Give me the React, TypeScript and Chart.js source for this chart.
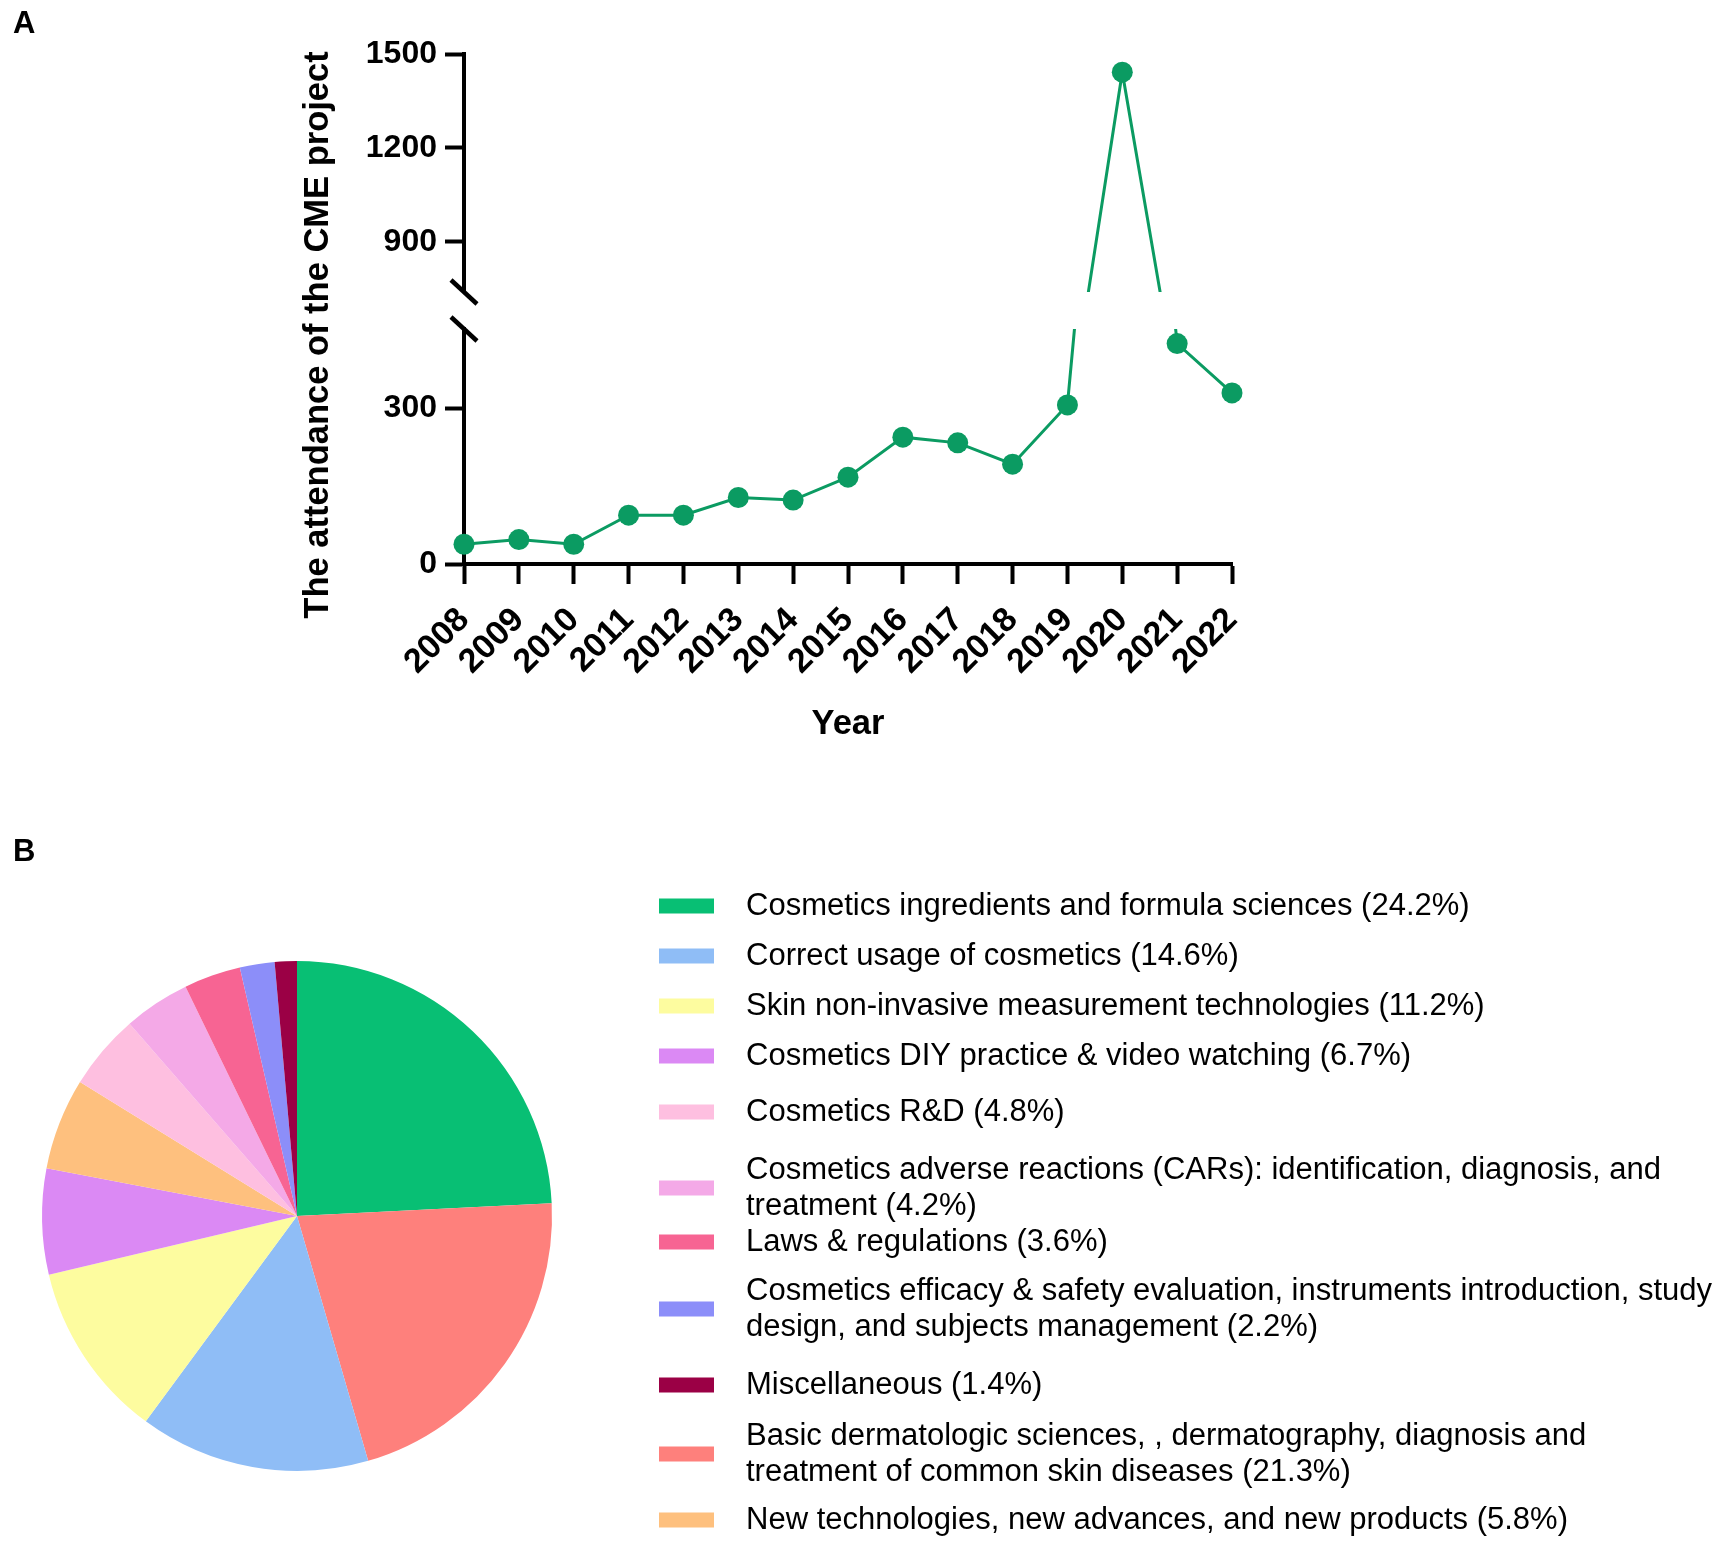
import { useEffect, useRef } from "react"
import { Chart, registerables } from "chart.js"

Chart.register(...registerables)

// Panel A: CME attendance per year
const years = ["2008", "2009", "2010", "2011", "2012", "2013", "2014", "2015", "2016", "2017", "2018", "2019", "2020", "2021", "2022"]
const attendance = [38, 47, 38, 94, 94, 128, 123, 167, 244, 233, 192, 306, 1442, 424, 329]
const lowerTicks = [0, 300]
const upperTicks = [900, 1200, 1500]
const lowerRange = [0, 452]
const upperRange = [740, 1500]

// Panel B: topics of the CME project (pie order, clockwise from 12 o'clock)
const topics = [
  "Cosmetics ingredients and formula sciences",
  "Basic dermatologic sciences, , dermatography, diagnosis and treatment of common skin diseases",
  "Correct usage of cosmetics",
  "Skin non-invasive measurement technologies",
  "Cosmetics DIY practice & video watching",
  "New technologies, new advances, and new products",
  "Cosmetics R&D",
  "Cosmetics adverse reactions (CARs): identification, diagnosis, and treatment",
  "Laws & regulations",
  "Cosmetics efficacy & safety evaluation, instruments introduction, study design, and subjects management",
  "Miscellaneous",
]
const shares = [24.2, 21.3, 14.6, 11.2, 6.7, 5.8, 4.8, 4.2, 3.6, 2.2, 1.4]
const sliceColors = ["#08bf74", "#fe807c", "#8fbdf6", "#fdfc9f", "#db89f4", "#fec07e", "#febfe0", "#f4a9e7", "#f76493", "#8c8ef9", "#9b0045"]
// order the legend lists the topics in
const legendOrder = [0, 2, 3, 4, 6, 7, 8, 9, 10, 1, 5]

const FONT = "'Liberation Sans', Arial, Helvetica, sans-serif"
const GREEN = "#0b9b62"

// spacing (px) from the last line of one legend entry to the first line of the next
const legendGaps = [50, 50, 50, 56, 58, 36, 49, 58, 51, 48]

Chart.defaults.font.family = FONT
Chart.defaults.color = "#000"

function AttendanceChart() {
  const chartRef = useRef<HTMLCanvasElement>(null)
  const chartInstance = useRef<Chart | null>(null)

  useEffect(() => {
    if (!chartRef.current) return

    if (chartInstance.current) {
      chartInstance.current.destroy()
    }

    const ctx = chartRef.current.getContext("2d")
    if (!ctx) return

    // break marks on the y axis + the y title spanning both segments
    const axisBreak = {
      id: "axisBreak",
      afterDraw(chart: any) {
        const { ctx, chartArea } = chart
        const x = chartArea.left
        const ends = [chart.scales.yHigh.bottom, chart.scales.yLow.top]
        ctx.save()
        ctx.strokeStyle = "#000"
        ctx.lineWidth = 4.5
        ends.forEach((y: number) => {
          ctx.beginPath()
          ctx.moveTo(x - 13, y - 12)
          ctx.lineTo(x + 13, y + 12)
          ctx.stroke()
        })
        ctx.translate(chartArea.left - 146, (chartArea.top + chartArea.bottom) / 2 + 26)
        ctx.rotate(-Math.PI / 2)
        ctx.font = `bold 34.5px ${FONT}`
        ctx.fillStyle = "#000"
        ctx.textAlign = "center"
        ctx.textBaseline = "middle"
        ctx.fillText("The attendance of the CME project", 0, 0)
        ctx.restore()
      },
    }

    const lineStyle = {
      data: attendance,
      borderColor: GREEN,
      backgroundColor: GREEN,
      borderWidth: 3,
      pointRadius: 10.5,
      pointBorderWidth: 0,
      pointBackgroundColor: GREEN,
      tension: 0,
      clip: { left: false, right: false, top: 0, bottom: 0 },
    }

    const yAxis = (range: number[], ticks: number[], weight: number) => ({
      type: "linear",
      position: "left",
      stack: "attendance",
      stackWeight: weight,
      min: range[0],
      max: range[1],
      afterBuildTicks: (axis: any) => {
        axis.ticks = ticks.map((value) => ({ value }))
      },
      afterFit: (axis: any) => {
        axis.width = 120
      },
      grid: { drawOnChartArea: false, tickLength: 19, tickWidth: 4, tickColor: "#000" },
      border: { width: 4, color: "#000" },
      ticks: {
        color: "#000",
        padding: 8,
        font: { size: 32, weight: "bold" },
        callback: (v: any) => String(v),
      },
    })

    chartInstance.current = new Chart(ctx, {
      type: "line",
      data: {
        labels: years,
        datasets: [
          { ...lineStyle, yAxisID: "yLow" },
          { ...lineStyle, yAxisID: "yHigh" },
        ],
      },
      options: {
        responsive: true,
        maintainAspectRatio: false,
        animation: false,
        layout: { padding: { left: 344, top: 54, right: 68, bottom: 0 } },
        plugins: {
          legend: { display: false },
          tooltip: { enabled: false },
        },
        scales: {
          x: {
            type: "category",
            offset: false,
            afterFit: (axis: any) => {
              axis.height = 196
            },
            grid: { drawOnChartArea: false, tickLength: 20, tickWidth: 4, tickColor: "#000" },
            border: { width: 4, color: "#000" },
            ticks: {
              autoSkip: false,
              minRotation: 45,
              maxRotation: 45,
              padding: 16,
              color: "#000",
              font: { size: 34, weight: "bold" },
            },
            title: {
              display: true,
              text: "Year",
              color: "#000",
              font: { size: 34.5, weight: "bold" },
              padding: { top: 0, bottom: 15 },
            },
          },
          yLow: yAxis(lowerRange, lowerTicks, 235),
          yGap: {
            type: "linear",
            position: "left",
            stack: "attendance",
            stackWeight: 37,
            min: 0,
            max: 1,
            grid: { display: false },
            border: { display: false },
            ticks: { display: false },
          },
          yHigh: yAxis(upperRange, upperTicks, 238),
        } as any,
      },
      plugins: [axisBreak],
    })

    return () => {
      if (chartInstance.current) {
        chartInstance.current.destroy()
        chartInstance.current = null
      }
    }
  }, [])

  return (
    <div style={{ position: "absolute", left: 0, top: 0, width: 1300, height: 760 }}>
      <canvas ref={chartRef}></canvas>
    </div>
  )
}

function wrapLines(ctx: CanvasRenderingContext2D, text: string, maxWidth: number) {
  const words = text.split(" ")
  const lines: string[] = []
  let line = ""
  words.forEach((w) => {
    const test = line ? line + " " + w : w
    if (line && ctx.measureText(test).width > maxWidth) {
      lines.push(line)
      line = w
    } else {
      line = test
    }
  })
  if (line) lines.push(line)
  return lines
}

function TopicsChart() {
  const chartRef = useRef<HTMLCanvasElement>(null)
  const chartInstance = useRef<Chart | null>(null)

  useEffect(() => {
    if (!chartRef.current) return

    if (chartInstance.current) {
      chartInstance.current.destroy()
    }

    const ctx = chartRef.current.getContext("2d")
    if (!ctx) return

    // legend on the right, in the order of the original figure, with wrapped labels
    const topicLegend = {
      id: "topicLegend",
      afterDraw(chart: any) {
        const { ctx } = chart
        const ds = chart.data.datasets[0]
        ctx.save()
        ctx.font = `31px ${FONT}`
        ctx.textBaseline = "middle"
        ctx.textAlign = "left"
        let y = 126
        legendOrder.forEach((i, row) => {
          const lines = wrapLines(ctx, `${chart.data.labels[i]} (${ds.data[i]}%)`, 974)
          const mid = y + ((lines.length - 1) * 36) / 2
          ctx.fillStyle = ds.backgroundColor[i]
          ctx.fillRect(659, mid - 7.5, 55, 15)
          ctx.fillStyle = "#000"
          lines.forEach((line, k) => ctx.fillText(line, 746, y + k * 36))
          y += (lines.length - 1) * 36 + (legendGaps[row] ?? 50)
        })
        ctx.restore()
      },
    }

    chartInstance.current = new Chart(ctx, {
      type: "pie",
      data: {
        labels: topics,
        datasets: [{ data: shares, backgroundColor: sliceColors, borderWidth: 0 }],
      },
      options: {
        responsive: true,
        maintainAspectRatio: false,
        animation: false,
        layout: { padding: { left: 42, top: 181, right: 1161, bottom: 73 } },
        plugins: {
          legend: { display: false },
          tooltip: { enabled: false },
        },
      },
      plugins: [topicLegend],
    })

    return () => {
      if (chartInstance.current) {
        chartInstance.current.destroy()
        chartInstance.current = null
      }
    }
  }, [])

  return (
    <div style={{ position: "absolute", left: 0, top: 780, width: 1713, height: 764 }}>
      <canvas ref={chartRef}></canvas>
    </div>
  )
}

const panelLabel = {
  position: "absolute" as const,
  left: 13,
  fontFamily: FONT,
  fontSize: 31,
  fontWeight: "bold" as const,
  lineHeight: "31px",
  color: "#000",
}

export default function App() {
  return (
    <div style={{ position: "absolute", left: 0, top: 0, width: 1713, height: 1544, background: "#fff" }}>
      <AttendanceChart />
      <TopicsChart />
      <div style={{ ...panelLabel, top: 7 }}>A</div>
      <div style={{ ...panelLabel, top: 835 }}>B</div>
    </div>
  )
}
